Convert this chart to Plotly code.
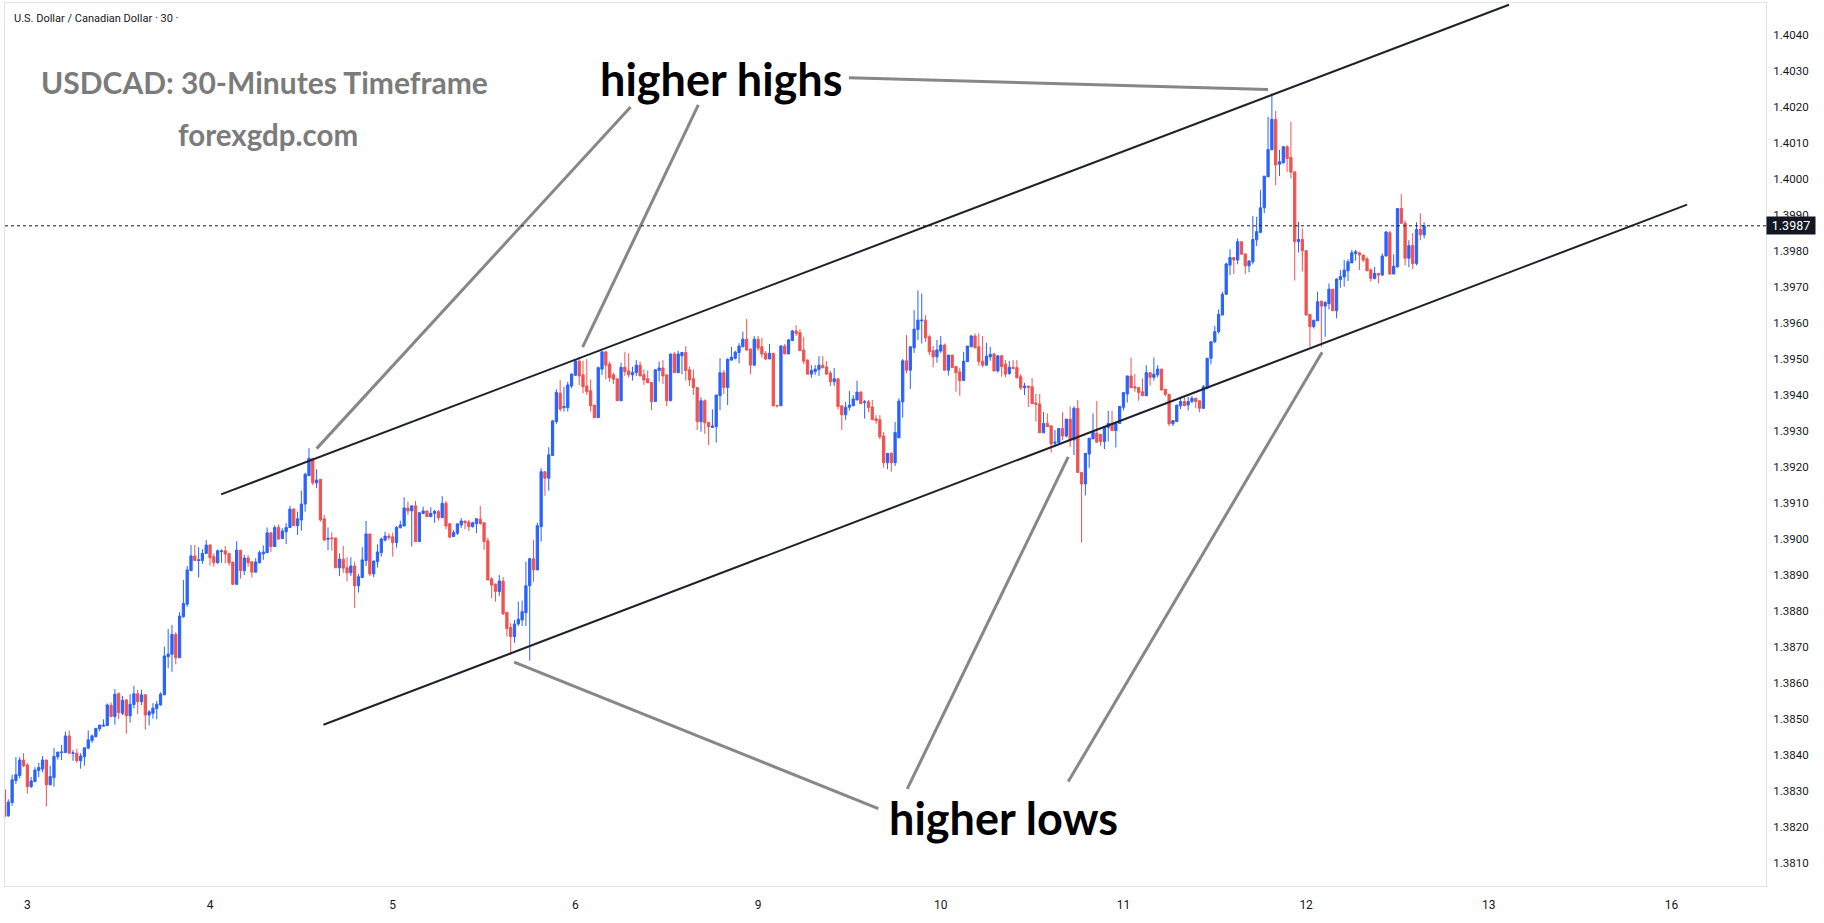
import plotly.graph_objects as go

# ---------------- data (USDCAD 30-minute candles) ----------------
opens = [
    1.38303, 1.38231, 1.38268, 1.38329, 1.38343, 1.38386, 1.38372, 1.38312, 1.38326, 1.38357,
    1.38361, 1.38386, 1.38317, 1.38337, 1.38395, 1.38407, 1.38407, 1.38453, 1.38404, 1.38405,
    1.38384, 1.38395, 1.38419, 1.38440, 1.38451, 1.38473, 1.38480, 1.38482, 1.38538, 1.38507,
    1.38570, 1.38516, 1.38553, 1.38509, 1.38540, 1.38570, 1.38548, 1.38567, 1.38511, 1.38516,
    1.38529, 1.38539, 1.38567, 1.38673, 1.38680, 1.38735, 1.38670, 1.38784, 1.38819, 1.38912,
    1.38953, 1.38940, 1.38940, 1.38960, 1.38983, 1.38951, 1.38934, 1.38965, 1.38967, 1.38960,
    1.38936, 1.38874, 1.38969, 1.38912, 1.38947, 1.38937, 1.38908, 1.38934, 1.38959, 1.38962,
    1.39017, 1.38979, 1.39032, 1.39001, 1.39020, 1.39032, 1.39083, 1.39037, 1.39053, 1.39097,
    1.39176, 1.39224, 1.39156, 1.39166, 1.39056, 1.38999, 1.39003, 1.39003, 1.38920, 1.38944,
    1.38920, 1.38906, 1.38925, 1.38870, 1.38893, 1.38940, 1.39014, 1.38903, 1.38937, 1.38962,
    1.38997, 1.39008, 1.39006, 1.38990, 1.39031, 1.39036, 1.39086, 1.39078, 1.39092, 1.38993,
    1.39071, 1.39078, 1.39062, 1.39071, 1.39076, 1.39059, 1.39099, 1.39042, 1.39007, 1.39016,
    1.39039, 1.39050, 1.39047, 1.39034, 1.39043, 1.39055, 1.39045, 1.38995, 1.38889, 1.38875,
    1.38854, 1.38883, 1.38796, 1.38754, 1.38729, 1.38764, 1.38775, 1.38795, 1.38870, 1.38945,
    1.38914, 1.39034, 1.39187, 1.39169, 1.39232, 1.39326, 1.39405, 1.39365, 1.39365, 1.39425,
    1.39455, 1.39494, 1.39456, 1.39425, 1.39412, 1.39372, 1.39337, 1.39472, 1.39520, 1.39486,
    1.39456, 1.39445, 1.39384, 1.39477, 1.39467, 1.39456, 1.39462, 1.39483, 1.39456, 1.39445,
    1.39435, 1.39382, 1.39468, 1.39475, 1.39456, 1.39384, 1.39514, 1.39462, 1.39509, 1.39518,
    1.39470, 1.39445, 1.39421, 1.39326, 1.39384, 1.39324, 1.39310, 1.39312, 1.39398, 1.39462,
    1.39421, 1.39497, 1.39502, 1.39518, 1.39534, 1.39555, 1.39528, 1.39483, 1.39555, 1.39534,
    1.39516, 1.39500, 1.39516, 1.39371, 1.39370, 1.39536, 1.39514, 1.39551, 1.39578, 1.39573,
    1.39525, 1.39497, 1.39458, 1.39465, 1.39471, 1.39483, 1.39478, 1.39461, 1.39437, 1.39445,
    1.39370, 1.39345, 1.39366, 1.39370, 1.39386, 1.39408, 1.39379, 1.39381, 1.39367, 1.39334,
    1.39331, 1.39286, 1.39212, 1.39238, 1.39212, 1.39281, 1.39381, 1.39495, 1.39469, 1.39531,
    1.39582, 1.39606, 1.39608, 1.39562, 1.39523, 1.39506, 1.39522, 1.39539, 1.39469, 1.39511,
    1.39479, 1.39464, 1.39440, 1.39493, 1.39534, 1.39564, 1.39534, 1.39494, 1.39483, 1.39506,
    1.39514, 1.39467, 1.39509, 1.39486, 1.39460, 1.39477, 1.39476, 1.39451, 1.39420, 1.39425,
    1.39423, 1.39378, 1.39375, 1.39295, 1.39321, 1.39314, 1.39266, 1.39268, 1.39307, 1.39286,
    1.39333, 1.39275, 1.39363, 1.39185, 1.39153, 1.39236, 1.39278, 1.39294, 1.39291, 1.39271,
    1.39310, 1.39321, 1.39301, 1.39321, 1.39366, 1.39403, 1.39453, 1.39423, 1.39421, 1.39409,
    1.39398, 1.39462, 1.39449, 1.39456, 1.39472, 1.39416, 1.39402, 1.39320, 1.39326, 1.39370,
    1.39382, 1.39372, 1.39382, 1.39391, 1.39384, 1.39363, 1.39419, 1.39502, 1.39548, 1.39576,
    1.39622, 1.39680, 1.39761, 1.39782, 1.39775, 1.39826, 1.39792, 1.39759, 1.39770, 1.39831,
    1.39852, 1.39920, 1.40006, 1.40081, 1.40166, 1.40041, 1.40045, 1.40090, 1.40060, 1.40020,
    1.39826, 1.39832, 1.39801, 1.39624, 1.39590, 1.39606, 1.39661, 1.39647, 1.39654, 1.39694,
    1.39634, 1.39721, 1.39728, 1.39745, 1.39767, 1.39793, 1.39795, 1.39789, 1.39778, 1.39747,
    1.39724, 1.39738, 1.39733, 1.39786, 1.39851, 1.39736, 1.39756, 1.39918, 1.39877, 1.39780,
    1.39815, 1.39765, 1.39860, 1.39845,
]
highs = [
    1.38310, 1.38277, 1.38345, 1.38394, 1.38394, 1.38405, 1.38378, 1.38339, 1.38366, 1.38378,
    1.38397, 1.38386, 1.38370, 1.38420, 1.38408, 1.38428, 1.38465, 1.38468, 1.38414, 1.38417,
    1.38405, 1.38420, 1.38468, 1.38457, 1.38475, 1.38484, 1.38499, 1.38543, 1.38546, 1.38583,
    1.38574, 1.38564, 1.38555, 1.38569, 1.38592, 1.38581, 1.38581, 1.38569, 1.38525, 1.38544,
    1.38550, 1.38574, 1.38701, 1.38750, 1.38761, 1.38741, 1.38797, 1.38886, 1.38925, 1.38983,
    1.38983, 1.38977, 1.38972, 1.38997, 1.38986, 1.38960, 1.38971, 1.38971, 1.38981, 1.38960,
    1.38936, 1.38994, 1.38969, 1.38956, 1.38956, 1.38937, 1.38947, 1.38968, 1.38982, 1.39032,
    1.39019, 1.39038, 1.39040, 1.39030, 1.39044, 1.39092, 1.39085, 1.39076, 1.39134, 1.39184,
    1.39252, 1.39224, 1.39194, 1.39166, 1.39067, 1.39032, 1.39019, 1.39003, 1.38960, 1.38981,
    1.38949, 1.38949, 1.38937, 1.38903, 1.38977, 1.39050, 1.39014, 1.38939, 1.38985, 1.39004,
    1.39020, 1.39016, 1.39018, 1.39036, 1.39051, 1.39116, 1.39104, 1.39092, 1.39106, 1.39073,
    1.39090, 1.39078, 1.39088, 1.39081, 1.39081, 1.39119, 1.39106, 1.39045, 1.39025, 1.39042,
    1.39058, 1.39050, 1.39053, 1.39048, 1.39058, 1.39092, 1.39045, 1.39004, 1.38894, 1.38875,
    1.38900, 1.38894, 1.38796, 1.38766, 1.38775, 1.38826, 1.38829, 1.38937, 1.38948, 1.38997,
    1.39045, 1.39197, 1.39187, 1.39255, 1.39331, 1.39416, 1.39442, 1.39423, 1.39437, 1.39460,
    1.39499, 1.39506, 1.39495, 1.39500, 1.39443, 1.39372, 1.39479, 1.39522, 1.39520, 1.39493,
    1.39462, 1.39445, 1.39490, 1.39520, 1.39516, 1.39479, 1.39497, 1.39493, 1.39471, 1.39468,
    1.39435, 1.39471, 1.39493, 1.39497, 1.39456, 1.39514, 1.39520, 1.39523, 1.39520, 1.39536,
    1.39479, 1.39470, 1.39421, 1.39394, 1.39388, 1.39324, 1.39360, 1.39400, 1.39502, 1.39470,
    1.39502, 1.39534, 1.39523, 1.39544, 1.39576, 1.39611, 1.39528, 1.39564, 1.39564, 1.39559,
    1.39522, 1.39542, 1.39516, 1.39371, 1.39539, 1.39542, 1.39556, 1.39581, 1.39594, 1.39583,
    1.39562, 1.39499, 1.39483, 1.39483, 1.39508, 1.39508, 1.39494, 1.39467, 1.39475, 1.39445,
    1.39370, 1.39381, 1.39411, 1.39400, 1.39440, 1.39411, 1.39386, 1.39386, 1.39386, 1.39344,
    1.39344, 1.39297, 1.39238, 1.39241, 1.39325, 1.39391, 1.39500, 1.39567, 1.39536, 1.39636,
    1.39691, 1.39682, 1.39622, 1.39567, 1.39536, 1.39553, 1.39564, 1.39543, 1.39511, 1.39511,
    1.39479, 1.39476, 1.39520, 1.39536, 1.39567, 1.39571, 1.39571, 1.39564, 1.39545, 1.39534,
    1.39517, 1.39511, 1.39511, 1.39497, 1.39495, 1.39497, 1.39497, 1.39458, 1.39434, 1.39425,
    1.39447, 1.39403, 1.39403, 1.39353, 1.39349, 1.39317, 1.39303, 1.39307, 1.39352, 1.39333,
    1.39368, 1.39369, 1.39386, 1.39185, 1.39238, 1.39280, 1.39349, 1.39383, 1.39291, 1.39312,
    1.39356, 1.39356, 1.39321, 1.39368, 1.39407, 1.39453, 1.39504, 1.39458, 1.39421, 1.39446,
    1.39483, 1.39462, 1.39504, 1.39483, 1.39472, 1.39416, 1.39402, 1.39329, 1.39372, 1.39395,
    1.39395, 1.39395, 1.39397, 1.39391, 1.39384, 1.39428, 1.39502, 1.39548, 1.39592, 1.39638,
    1.39687, 1.39768, 1.39805, 1.39782, 1.39835, 1.39826, 1.39792, 1.39775, 1.39897, 1.39895,
    1.39969, 1.40008, 1.40173, 1.40238, 1.40189, 1.40081, 1.40090, 1.40094, 1.40159, 1.40020,
    1.39881, 1.39863, 1.39801, 1.39624, 1.39608, 1.39687, 1.39661, 1.39661, 1.39710, 1.39694,
    1.39724, 1.39747, 1.39775, 1.39777, 1.39803, 1.39803, 1.39798, 1.39789, 1.39784, 1.39752,
    1.39756, 1.39738, 1.39793, 1.39856, 1.39856, 1.39791, 1.39918, 1.39958, 1.39885, 1.39830,
    1.39850, 1.39880, 1.39905, 1.39880,
]
lows = [
    1.38225, 1.38228, 1.38259, 1.38319, 1.38335, 1.38366, 1.38293, 1.38308, 1.38325, 1.38338,
    1.38352, 1.38257, 1.38316, 1.38312, 1.38387, 1.38386, 1.38405, 1.38403, 1.38384, 1.38379,
    1.38362, 1.38370, 1.38416, 1.38433, 1.38448, 1.38466, 1.38479, 1.38480, 1.38505, 1.38484,
    1.38500, 1.38511, 1.38459, 1.38490, 1.38529, 1.38513, 1.38539, 1.38470, 1.38482, 1.38501,
    1.38499, 1.38537, 1.38567, 1.38641, 1.38631, 1.38652, 1.38670, 1.38781, 1.38812, 1.38912,
    1.38940, 1.38893, 1.38931, 1.38960, 1.38926, 1.38923, 1.38931, 1.38934, 1.38932, 1.38926,
    1.38874, 1.38874, 1.38890, 1.38900, 1.38923, 1.38893, 1.38906, 1.38932, 1.38942, 1.38962,
    1.38964, 1.38979, 1.38997, 1.39001, 1.38986, 1.39030, 1.39036, 1.39011, 1.39023, 1.39076,
    1.39176, 1.39150, 1.39141, 1.39048, 1.38994, 1.38969, 1.38968, 1.38920, 1.38897, 1.38906,
    1.38882, 1.38897, 1.38809, 1.38851, 1.38893, 1.38925, 1.38897, 1.38894, 1.38921, 1.38951,
    1.38993, 1.38997, 1.38951, 1.38976, 1.39030, 1.39036, 1.39067, 1.38979, 1.38993, 1.38993,
    1.39069, 1.39062, 1.39062, 1.39045, 1.39051, 1.39059, 1.39027, 1.39002, 1.39005, 1.39011,
    1.39031, 1.39027, 1.39022, 1.39032, 1.39016, 1.39039, 1.38970, 1.38886, 1.38835, 1.38826,
    1.38842, 1.38789, 1.38729, 1.38678, 1.38712, 1.38758, 1.38758, 1.38758, 1.38662, 1.38881,
    1.38914, 1.38993, 1.39120, 1.39134, 1.39232, 1.39320, 1.39354, 1.39354, 1.39354, 1.39419,
    1.39453, 1.39428, 1.39405, 1.39400, 1.39354, 1.39337, 1.39337, 1.39456, 1.39444, 1.39437,
    1.39431, 1.39384, 1.39384, 1.39453, 1.39449, 1.39440, 1.39453, 1.39453, 1.39428, 1.39434,
    1.39358, 1.39382, 1.39437, 1.39431, 1.39369, 1.39384, 1.39462, 1.39462, 1.39458, 1.39440,
    1.39425, 1.39400, 1.39303, 1.39298, 1.39292, 1.39261, 1.39309, 1.39268, 1.39358, 1.39403,
    1.39372, 1.39495, 1.39499, 1.39488, 1.39534, 1.39523, 1.39458, 1.39481, 1.39523, 1.39504,
    1.39497, 1.39500, 1.39370, 1.39365, 1.39370, 1.39514, 1.39514, 1.39551, 1.39564, 1.39523,
    1.39486, 1.39458, 1.39448, 1.39456, 1.39453, 1.39474, 1.39458, 1.39425, 1.39425, 1.39360,
    1.39303, 1.39331, 1.39357, 1.39370, 1.39386, 1.39376, 1.39334, 1.39352, 1.39329, 1.39320,
    1.39277, 1.39198, 1.39194, 1.39187, 1.39203, 1.39281, 1.39337, 1.39460, 1.39417, 1.39517,
    1.39552, 1.39543, 1.39548, 1.39511, 1.39477, 1.39490, 1.39517, 1.39469, 1.39454, 1.39476,
    1.39409, 1.39398, 1.39440, 1.39493, 1.39534, 1.39530, 1.39481, 1.39477, 1.39483, 1.39495,
    1.39465, 1.39462, 1.39451, 1.39449, 1.39456, 1.39471, 1.39446, 1.39414, 1.39400, 1.39367,
    1.39375, 1.39326, 1.39295, 1.39295, 1.39312, 1.39240, 1.39255, 1.39266, 1.39275, 1.39282,
    1.39256, 1.39233, 1.39185, 1.38990, 1.39121, 1.39198, 1.39278, 1.39269, 1.39258, 1.39250,
    1.39271, 1.39301, 1.39254, 1.39321, 1.39357, 1.39379, 1.39420, 1.39409, 1.39384, 1.39398,
    1.39398, 1.39426, 1.39440, 1.39449, 1.39412, 1.39397, 1.39314, 1.39314, 1.39326, 1.39361,
    1.39370, 1.39357, 1.39377, 1.39363, 1.39352, 1.39361, 1.39416, 1.39485, 1.39544, 1.39571,
    1.39622, 1.39678, 1.39733, 1.39736, 1.39763, 1.39791, 1.39736, 1.39741, 1.39763, 1.39814,
    1.39849, 1.39905, 1.40006, 1.40081, 1.39983, 1.40008, 1.40043, 1.40020, 1.40002, 1.39718,
    1.39796, 1.39743, 1.39622, 1.39534, 1.39585, 1.39606, 1.39534, 1.39562, 1.39638, 1.39634,
    1.39613, 1.39698, 1.39701, 1.39717, 1.39767, 1.39773, 1.39747, 1.39770, 1.39745, 1.39715,
    1.39721, 1.39710, 1.39733, 1.39786, 1.39736, 1.39736, 1.39754, 1.39877, 1.39760, 1.39755,
    1.39750, 1.39760, 1.39830, 1.39835,
]
closes = [
    1.38229, 1.38269, 1.38331, 1.38345, 1.38386, 1.38370, 1.38312, 1.38328, 1.38358, 1.38365,
    1.38386, 1.38317, 1.38340, 1.38396, 1.38408, 1.38408, 1.38453, 1.38405, 1.38406, 1.38384,
    1.38397, 1.38420, 1.38442, 1.38453, 1.38474, 1.38483, 1.38483, 1.38539, 1.38507, 1.38569,
    1.38518, 1.38552, 1.38509, 1.38541, 1.38570, 1.38548, 1.38567, 1.38511, 1.38520, 1.38530,
    1.38541, 1.38569, 1.38675, 1.38680, 1.38735, 1.38670, 1.38786, 1.38821, 1.38914, 1.38953,
    1.38940, 1.38942, 1.38960, 1.38983, 1.38948, 1.38934, 1.38967, 1.38967, 1.38958, 1.38934,
    1.38874, 1.38969, 1.38912, 1.38947, 1.38934, 1.38908, 1.38936, 1.38962, 1.38964, 1.39017,
    1.38979, 1.39032, 1.39000, 1.39022, 1.39032, 1.39083, 1.39037, 1.39056, 1.39097, 1.39180,
    1.39224, 1.39156, 1.39164, 1.39053, 1.38997, 1.39002, 1.39001, 1.38920, 1.38944, 1.38919,
    1.38906, 1.38925, 1.38870, 1.38895, 1.38942, 1.39014, 1.38903, 1.38939, 1.38964, 1.39000,
    1.39008, 1.39004, 1.38990, 1.39032, 1.39039, 1.39086, 1.39078, 1.39092, 1.38993, 1.39073,
    1.39078, 1.39062, 1.39071, 1.39077, 1.39059, 1.39099, 1.39036, 1.39005, 1.39018, 1.39042,
    1.39050, 1.39045, 1.39034, 1.39045, 1.39056, 1.39043, 1.38993, 1.38886, 1.38872, 1.38854,
    1.38883, 1.38792, 1.38751, 1.38729, 1.38764, 1.38777, 1.38798, 1.38870, 1.38945, 1.38914,
    1.39037, 1.39187, 1.39169, 1.39234, 1.39328, 1.39407, 1.39361, 1.39368, 1.39428, 1.39458,
    1.39495, 1.39453, 1.39423, 1.39409, 1.39370, 1.39337, 1.39476, 1.39520, 1.39483, 1.39448,
    1.39444, 1.39384, 1.39477, 1.39465, 1.39456, 1.39463, 1.39483, 1.39453, 1.39442, 1.39434,
    1.39382, 1.39470, 1.39475, 1.39453, 1.39384, 1.39514, 1.39462, 1.39514, 1.39518, 1.39468,
    1.39442, 1.39421, 1.39326, 1.39384, 1.39323, 1.39312, 1.39314, 1.39400, 1.39462, 1.39421,
    1.39499, 1.39505, 1.39519, 1.39536, 1.39555, 1.39525, 1.39483, 1.39555, 1.39530, 1.39514,
    1.39500, 1.39516, 1.39370, 1.39370, 1.39536, 1.39514, 1.39553, 1.39578, 1.39571, 1.39523,
    1.39494, 1.39458, 1.39468, 1.39472, 1.39483, 1.39476, 1.39458, 1.39437, 1.39445, 1.39368,
    1.39345, 1.39366, 1.39372, 1.39389, 1.39408, 1.39376, 1.39381, 1.39365, 1.39332, 1.39329,
    1.39284, 1.39212, 1.39238, 1.39212, 1.39296, 1.39383, 1.39495, 1.39469, 1.39534, 1.39583,
    1.39608, 1.39608, 1.39559, 1.39520, 1.39506, 1.39525, 1.39539, 1.39469, 1.39511, 1.39476,
    1.39462, 1.39440, 1.39494, 1.39536, 1.39564, 1.39531, 1.39493, 1.39483, 1.39508, 1.39513,
    1.39467, 1.39509, 1.39479, 1.39458, 1.39477, 1.39474, 1.39448, 1.39420, 1.39425, 1.39421,
    1.39376, 1.39374, 1.39295, 1.39321, 1.39312, 1.39264, 1.39269, 1.39307, 1.39286, 1.39333,
    1.39275, 1.39363, 1.39185, 1.39153, 1.39238, 1.39280, 1.39297, 1.39269, 1.39271, 1.39312,
    1.39321, 1.39301, 1.39321, 1.39368, 1.39407, 1.39453, 1.39420, 1.39420, 1.39407, 1.39398,
    1.39462, 1.39449, 1.39458, 1.39472, 1.39414, 1.39402, 1.39320, 1.39329, 1.39372, 1.39382,
    1.39370, 1.39382, 1.39391, 1.39382, 1.39363, 1.39423, 1.39502, 1.39548, 1.39576, 1.39624,
    1.39680, 1.39764, 1.39782, 1.39775, 1.39826, 1.39791, 1.39759, 1.39772, 1.39832, 1.39854,
    1.39920, 1.40008, 1.40082, 1.40166, 1.40039, 1.40048, 1.40090, 1.40057, 1.40019, 1.39826,
    1.39832, 1.39801, 1.39622, 1.39590, 1.39608, 1.39659, 1.39647, 1.39657, 1.39694, 1.39634,
    1.39722, 1.39729, 1.39747, 1.39770, 1.39795, 1.39798, 1.39789, 1.39775, 1.39745, 1.39724,
    1.39738, 1.39733, 1.39786, 1.39853, 1.39736, 1.39758, 1.39918, 1.39877, 1.39780, 1.39815,
    1.39765, 1.39860, 1.39845, 1.39870,
]

# time axis: bar index of each day's midnight, and its label
day_bars = [6, 54, 102, 150, 198, 246, 294, 342, 390, 438]
day_labels = ["3", "4", "5", "6", "9", "10", "11", "12", "13", "16"]

last_price = 1.3987

# drawings (bar index, price)
channel_upper = [(56.9, 1.39124), (395.3, 1.40484)]
channel_lower = [(83.8, 1.38484), (442.1, 1.39929)]
pointer_lines = [
    [(164.5, 1.40200), (82.0, 1.39251)],
    [(182.3, 1.40206), (151.9, 1.39533)],
    [(221.9, 1.40281), (332.0, 1.40249)],
    [(229.6, 1.38251), (133.9, 1.38658)],
    [(237.2, 1.38306), (279.5, 1.39228)],
    [(279.5, 1.38326), (346.2, 1.39519)],
]
label_highs = (188.3, 1.40278, "higher highs")
label_lows = (262.4, 1.38225, "higher lows")

# ---------------- figure ----------------
UP = "#2962ff"
DOWN = "#ef5350"
TXT = "#131722"

bars = list(range(len(closes)))

fig = go.Figure()
fig.add_trace(go.Candlestick(
    x=bars, open=opens, high=highs, low=lows, close=closes,
    increasing=dict(line=dict(color=UP, width=1), fillcolor=UP),
    decreasing=dict(line=dict(color=DOWN, width=1), fillcolor=DOWN),
    whiskerwidth=0, hoverinfo="skip", showlegend=False,
))

shapes = []
for seg in (channel_upper, channel_lower):
    shapes.append(dict(type="line", xref="x", yref="y",
                       x0=seg[0][0], y0=seg[0][1], x1=seg[1][0], y1=seg[1][1],
                       line=dict(color="#1e222d", width=2)))
for seg in pointer_lines:
    shapes.append(dict(type="line", xref="x", yref="y",
                       x0=seg[0][0], y0=seg[0][1], x1=seg[1][0], y1=seg[1][1],
                       line=dict(color="#878787", width=3)))
shapes.append(dict(type="line", xref="paper", yref="y", x0=0, x1=1,
                   y0=last_price, y1=last_price,
                   line=dict(color=TXT, width=1, dash="dot")))

annotations = [
    dict(xref="paper", yref="paper", x=0.0042, y=0.9828, xanchor="left", yanchor="middle",
         text="U.S. Dollar / Canadian Dollar · 30 ·", showarrow=False,
         font=dict(family="Roboto", size=11, color=TXT)),
    dict(xref="paper", yref="paper", x=0.1472, y=0.9108, xanchor="center", yanchor="middle",
         text="USDCAD: 30-Minutes Timeframe", showarrow=False,
         font=dict(family="Lato", size=30, color="#7b7b7b", weight="bold")),
    dict(xref="paper", yref="paper", x=0.1493, y=0.8515, xanchor="center", yanchor="middle",
         text="forexgdp.com", showarrow=False,
         font=dict(family="Lato", size=29.5, color="#7b7b7b", weight="bold")),
    dict(xref="x", yref="y", x=label_highs[0], y=label_highs[1], xanchor="center", yanchor="middle",
         text=label_highs[2], showarrow=False,
         font=dict(family="Lato", size=45, color="#000000", weight="bold")),
    dict(xref="x", yref="y", x=label_lows[0], y=label_lows[1], xanchor="center", yanchor="middle",
         text=label_lows[2], showarrow=False,
         font=dict(family="Lato", size=45, color="#000000", weight="bold")),
    dict(xref="paper", yref="y", x=1, y=last_price, xanchor="left", yanchor="middle",
         text=f"{last_price:.4f}", showarrow=False, bgcolor=TXT, borderpad=2,
         width=44, height=13, align="center",
         font=dict(family="Roboto", size=12.5, color="#ffffff")),
]

fig.update_layout(
    width=1824, height=923,
    margin=dict(l=5, r=58, t=3, b=37, pad=0),
    paper_bgcolor="#ffffff", plot_bgcolor="#ffffff",
    showlegend=False,
    boxgap=0.15,
    shapes=shapes,
    annotations=annotations,
    xaxis=dict(
        range=[0.13, 462.83], tickmode="array", tickvals=day_bars, ticktext=day_labels,
        showgrid=False, zeroline=False, showline=True, linecolor="#e0e3eb", linewidth=1,
        mirror=True, ticks="", ticklabelstandoff=8,
        tickfont=dict(family="Roboto", size=12, color=TXT),
        rangeslider=dict(visible=False), automargin=False,
    ),
    yaxis=dict(
        side="right", range=[1.38036, 1.40489], tick0=1.381, dtick=0.001, tickformat=".4f",
        showgrid=False, zeroline=False, showline=True, linecolor="#e0e3eb", linewidth=1,
        mirror=True, ticks="", ticklabelstandoff=4,
        tickfont=dict(family="Roboto", size=11.5, color=TXT), automargin=False,
    ),
)

fig.write_html("out.html", config={"displayModeBar": False},
               post_script="document.body.style.margin='0';document.body.style.overflow='hidden';")
